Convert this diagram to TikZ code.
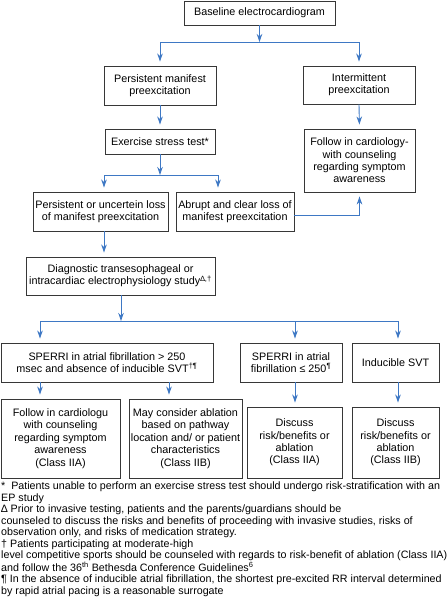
\documentclass[tikz,border=0pt]{standalone}
\usepackage{fontspec}
\setmainfont{Liberation Sans}
\usetikzlibrary{arrows.meta}
\definecolor{flowblue}{RGB}{62,120,196}
\definecolor{boxgray}{RGB}{55,55,55}

\begin{document}
\begin{tikzpicture}[x=1pt,y=-1pt,font=\fontsize{10.8}{12.4}\selectfont,
  box/.style={draw=boxgray,line width=0.9pt,align=center,inner sep=1pt},
  bar/.style={draw=flowblue,line width=0.9pt},
  arr/.style={bar,-{Stealth[length=8pt,width=5.5pt,inset=2.5pt]}},
  arrbox/.style={arr,shorten >=4pt}]
  \useasboundingbox (0,0) rectangle (447,613);

  % Baseline and first split
  \node[box,minimum width=151pt,minimum height=24pt] (base) at (259.5,13) {Baseline electrocardiogram};
  \node[box,minimum width=112pt,minimum height=39pt] (persist) at (160,85.5) {Persistent manifest\\preexcitation};
  \node[box,minimum width=112pt,minimum height=38pt] (interm) at (359,85) {Intermittent\\preexcitation};
  \coordinate (j1) at (259.5,42);
  \draw[arr] (base.south) -- (j1);
  \draw[arrbox] (j1) -| (persist.north);
  \draw[arrbox] (j1) -| (interm.north);

  % Exercise test and follow-up
  \node[box,minimum width=110pt,minimum height=25pt] (exer) at (160,141.5) {Exercise stress test*};
  \node[box,minimum width=111pt,minimum height=63pt] (follow) at (359.5,160.5) {Follow in cardiology-\\with counseling\\regarding symptom\\awareness};
  \draw[arrbox] (persist.south) -- (exer.north);
  \draw[arrbox] (interm.south) -- (follow.north);

  % Result of the exercise test
  \node[box,minimum width=135pt,minimum height=39pt] (uncert) at (100.5,211.5) {Persistent or uncertein loss\\of manifest preexcitation};
  \node[box,minimum width=118pt,minimum height=39pt] (abrupt) at (235,211.5) {Abrupt and clear loss of\\manifest preexcitation};
  \coordinate (j2) at (160,175);
  \coordinate (j2a) at (104,175);
  \coordinate (j2b) at (218,175);
  \draw[arr] (exer.south) -- (j2);
  \draw[bar] (j2a) -- (j2b);
  \draw[arrbox] (j2a) -- (j2a |- uncert.north);
  \draw[arrbox] (j2b) -- (j2b |- abrupt.north);
  \draw[arrbox] ([yshift=-4pt]abrupt.east) -| (follow.south);

  % EP study
  \node[box,minimum width=189pt,minimum height=38pt] (diag) at (120.5,276) {Diagnostic transesophageal or\\intracardiac electrophysiology study\textsuperscript{∆,†}};
  \draw[arrbox] (j2a |- uncert.south) -- (j2a |- diag.north);

  % Outcomes of the study
  \node[box,minimum width=212pt,minimum height=39pt] (sperA) at (107,362.5) {SPERRI in atrial fibrillation > 250\\msec and absence of inducible SVT\textsuperscript{†¶}};
  \node[box,minimum width=102pt,minimum height=39pt] (sperB) at (291,362.5) {SPERRI in atrial\\fibrillation ≤ 250\textsuperscript{¶}};
  \node[box,minimum width=87pt,minimum height=39pt] (svt) at (395.5,362.5) {Inducible SVT};
  \coordinate (j3) at (121,321);
  \coordinate (j3a) at (40,321);
  \coordinate (j3b) at (295,321);
  \coordinate (j3c) at (398,321);
  \draw[arr] (j3 |- diag.south) -- (j3);
  \draw[bar] (j3a) -- (j3c);
  \draw[arrbox] (j3a) -- (j3a |- sperA.north);
  \draw[arrbox] (j3b) -- (j3b |- sperB.north);
  \draw[arrbox] (j3c) -- (j3c |- svt.north);

  % Recommendations
  \node[box,minimum width=119pt,minimum height=79pt] (folA) at (60.5,438.5) {Follow in cardiologu\\with counseling\\regarding symptom\\awareness\\(Class IIA)};
  \node[box,minimum width=113pt,minimum height=79pt] (may) at (185.5,438.5) {May consider ablation\\based on pathway\\location and/ or patient\\characteristics\\(Class IIB)};
  \node[box,minimum width=95pt,minimum height=71pt] (disA) at (294.5,442.5) {Discuss\\risk/benefits or\\ablation\\(Class IIA)};
  \node[box,minimum width=87pt,minimum height=71pt] (disB) at (395.5,442.5) {Discuss\\risk/benefits or\\ablation\\(Class IIB)};
  \coordinate (k1) at (40,0);
  \coordinate (k2) at (169,0);
  \draw[arrbox] (k1 |- sperA.south) -- (k1 |- folA.north);
  \draw[arrbox] (k2 |- sperA.south) -- (k2 |- may.north);
  \draw[arrbox] (j3b |- sperB.south) -- (j3b |- disA.north);
  \draw[arrbox] (j3c |- svt.south) -- (j3c |- disB.north);

  % Footnotes
  \node[anchor=north west,align=left,inner sep=0pt,font=\fontsize{10.7}{11.45}\selectfont] (notes) at (1,482)
  {*\ \ Patients unable to perform an exercise stress test should undergo risk-stratification with an\\
   EP study\\
   ∆ Prior to invasive testing, patients and the parents/guardians should be\\
   counseled to discuss the risks and benefits of proceeding with invasive studies, risks of\\
   observation only, and risks of medication strategy.\\
   †\ Patients participating at moderate-high\\
   level competitive sports should be counseled with regards to risk-benefit of ablation (Class IIA)\\
   and follow the 36\textsuperscript{th} Bethesda Conference Guidelines\textsuperscript{6}\\
   ¶ In the absence of inducible atrial fibrillation, the shortest pre-excited RR interval determined\\
   by rapid atrial pacing is a reasonable surrogate};
\end{tikzpicture}
\end{document}
